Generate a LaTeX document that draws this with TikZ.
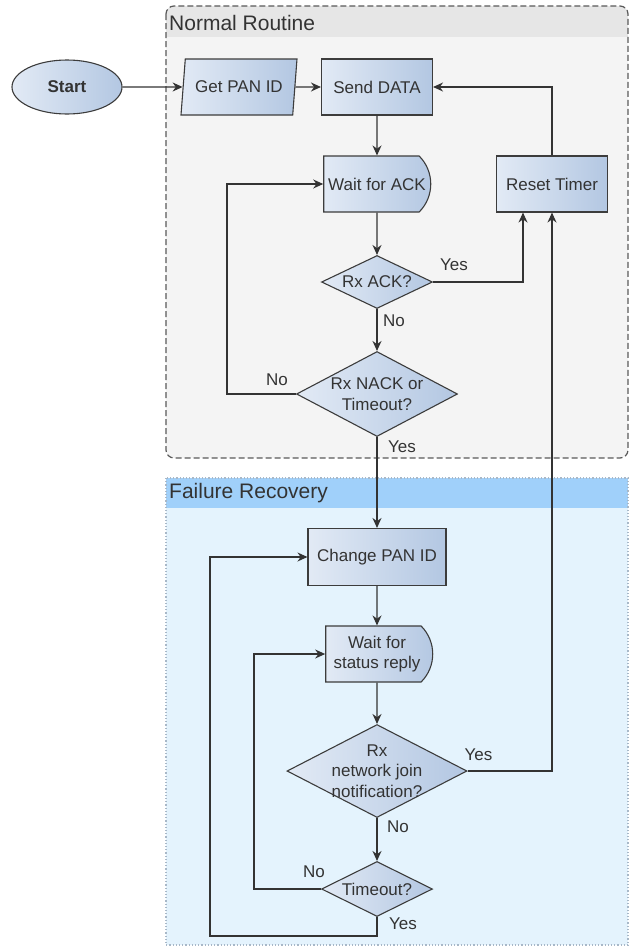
\documentclass[tikz,border=0pt]{standalone}
\usepackage{fontspec}
\setmainfont{Liberation Sans}
\usetikzlibrary{shapes.geometric, shapes.misc, positioning, arrows.meta}
\definecolor{boxleft}{HTML}{E2EAF5}
\definecolor{boxright}{HTML}{B3C7E2}
\definecolor{boxline}{HTML}{3C3C3C}
\definecolor{inktext}{HTML}{333333}
\definecolor{routinefill}{HTML}{F4F4F4}
\definecolor{routinehead}{HTML}{E6E6E6}
\definecolor{recoveryfill}{HTML}{E4F3FD}
\definecolor{recoveryhead}{HTML}{A0D0FA}
\definecolor{recoveryline}{HTML}{A8B8C8}
\tikzset{
x=1pt, y=-1pt, % pixel-like coordinates, y going down
>={Stealth[length=10pt, width=9pt]}, % filled heads
every node/.style={font=\fontsize{17}{20.5}\selectfont, text=inktext},
flow/.style={draw=boxline, line width=1.1pt, left color=boxleft, right color=boxright, align=center, inner sep=2pt}, % shared look of the blocks
procbox/.style={flow, rectangle, minimum width=111pt, minimum height=56pt},
iobox/.style={flow, trapezium, trapezium left angle=75, trapezium right angle=105, trapezium stretches body, minimum width=116pt, minimum height=56pt},
waitbox/.style={flow, rounded rectangle, rounded rectangle left arc=none, rounded rectangle arc length=90, minimum width=111pt, minimum height=56pt},
test/.style={flow, diamond, inner sep=0pt},
startnode/.style={flow, ellipse, minimum width=110pt, minimum height=54pt, font=\fontsize{17}{20}\selectfont\bfseries},
link/.style={draw=inktext, line width=1.2pt},
lbl/.style={inner sep=0pt},
grouptitle/.style={anchor=west, inner sep=0pt, font=\fontsize{21}{24}\selectfont},
}

\begin{document}
\begin{tikzpicture}
      \useasboundingbox (0,0) rectangle (632,948);

      % group frames
      \begin{scope}
        \clip[rounded corners=8pt] (166,6) rectangle (628,458);
        \fill[routinefill] (166,6) rectangle (628,458);
        \fill[routinehead] (166,6) rectangle (628,37);
      \end{scope}
      \draw[boxline!85, line width=1.2pt, dash pattern=on 6pt off 3pt, rounded corners=8pt] (166,6) rectangle (628,458);
      \fill[recoveryfill] (166,478) rectangle (628,945);
      \fill[recoveryhead] (166,478) rectangle (628,508);
      \draw[recoveryline, line width=1.2pt, dotted] (166,478) rectangle (628,945);
      \node[grouptitle] (routinetitle) at (169,23) {Normal Routine};
      \node[grouptitle] (recoverytitle) at (169,493) {Failure Recovery};

      \node[startnode] (start) at (67,87) {Start};
      \node[iobox, node distance=172pt, right of=start] (getpan) {Get PAN ID};
      \node[procbox, node distance=138pt, right of=getpan] (senddata) {Send DATA};
      \node[waitbox, node distance=97pt, below of=senddata] (waitack) {Wait for ACK};
      \node[procbox, node distance=175pt, right of=waitack] (resettimer) {Reset Timer};
      \node[test, aspect=2.1, minimum width=111pt, minimum height=53pt, node distance=98pt, below of=waitack] (rxack) {Rx ACK?};
      \node[test, aspect=1.9, minimum width=161pt, minimum height=85pt, node distance=112pt, below of=rxack] (rxnack) {Rx NACK or\\Timeout?};
      \node[procbox, minimum width=138pt, minimum height=57pt, node distance=163pt, below of=rxnack] (changepan) {Change PAN ID};
      \node[waitbox, node distance=97pt, below of=changepan] (waitstatus) {Wait for\\status reply};
      \node[test, aspect=1.94, inner sep=-3pt, minimum width=180pt, minimum height=93pt, node distance=117pt, below of=waitstatus] (rxjoin) {Rx\\network join\\notification?};
      \node[test, aspect=2, minimum width=111pt, minimum height=55pt, node distance=118pt, below of=rxjoin] (timeout) {Timeout?};

      \draw[link, ->] (start) -- (getpan);
      \draw[link, ->] (getpan) -- (senddata);
      \draw[link, ->] (senddata) -- (waitack);
      \draw[link, ->] (waitack) -- (rxack);
      \draw[link, ->] (rxack) -- (rxnack);
      \draw[link, ->] (rxnack.west) -- ++(-69,0) |- (waitack.west);
      \draw[link, ->] (rxack.east) -| ([xshift=-29pt]resettimer.south);
      \draw[link, ->] (resettimer.north) |- (senddata.east);
      \draw[link, ->] (rxnack) -- (changepan);
      \draw[link, ->] (changepan) -- (waitstatus);
      \draw[link, ->] (waitstatus) -- (rxjoin);
      \draw[link, ->] (rxjoin.east) -| (resettimer.south);
      \draw[link, ->] (rxjoin) -- (timeout);
      \draw[link, ->] (timeout.west) -- ++(-67,0) |- (waitstatus.west);
      \draw[link, ->] (timeout.south) |- ++(-167,19) |- (changepan.west);

      % branch labels
      \node[lbl] (yesack) at ([shift={(21pt,17pt)}]rxack.east) {Yes};
      \node[lbl] (noack) at ([shift={(17pt,-12pt)}]rxack.south) {No};
      \node[lbl] (nonack) at ([shift={(-19pt,14pt)}]rxnack.west) {No};
      \node[lbl] (yesnack) at ([shift={(25pt,-10pt)}]rxnack.south) {Yes};
      \node[lbl] (yesjoin) at ([shift={(11pt,16pt)}]rxjoin.east) {Yes};
      \node[lbl] (nojoin) at ([shift={(21pt,-9pt)}]rxjoin.south) {No};
      \node[lbl] (notimeout) at ([shift={(-7pt,17pt)}]timeout.west) {No};
      \node[lbl] (yestimeout) at ([shift={(26pt,-7pt)}]timeout.south) {Yes};
\end{tikzpicture}
\end{document}
